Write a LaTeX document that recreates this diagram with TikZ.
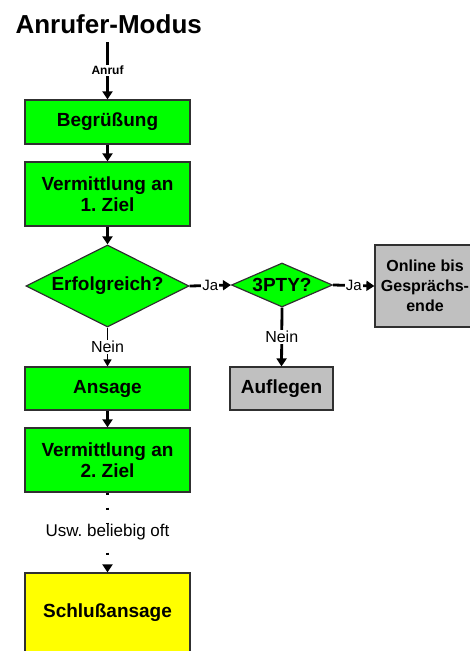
\documentclass[tikz,border=0pt]{standalone}
\usepackage{fontspec}
\setmainfont{Liberation Sans}
\usetikzlibrary{shapes.geometric,arrows.meta}
\frenchspacing
\definecolor{boxgreen}{HTML}{00FF00}
\definecolor{boxgray}{HTML}{C0C0C0}
\definecolor{boxyellow}{HTML}{FFFF00}
\definecolor{edge}{HTML}{303030}
\tikzset{
  box/.style={draw=edge, line width=1.2pt, rectangle, inner sep=0pt, align=center,
    font=\fontsize{19}{21}\selectfont\bfseries},
  greenbox/.style={box, fill=boxgreen},
  graybox/.style={box, fill=boxgray},
  dia/.style={draw=edge, line width=1.2pt, diamond, fill=boxgreen, inner sep=0pt,
    font=\fontsize{19}{21}\selectfont\bfseries},
  arr/.style={line width=2.8pt, -{Triangle[length=8pt,width=10pt]}},
  lbl/.style={fill=white, inner sep=1pt, font=\fontsize{16}{18}\selectfont},
}
\begin{document}
\begin{tikzpicture}[x=1pt,y=-1pt]
\useasboundingbox (0,0) rectangle (470,651);
\clip (0,0) rectangle (470,651);
\node[anchor=west, font=\fontsize{26}{28}\selectfont\bfseries] (title) at (12,24) {Anrufer-Modus};
\coordinate (start) at (107.5,42);
\node[greenbox, minimum width=165pt, minimum height=44pt] (b1) at (107.5,122) {Begrüßung};
\node[greenbox, minimum width=165pt, minimum height=64pt] (b2) at (107.5,194) {Vermittlung an\\1. Ziel};
\node[dia, shape aspect=2, minimum width=163pt, minimum height=82pt] (d1) at (107.5,286) {Erfolgreich?};
\node[dia, shape aspect=2.3, minimum width=101pt, minimum height=44pt] (d2) at (282,285) {3PTY?};
\node[graybox, minimum width=100pt, minimum height=82pt, font=\fontsize{16}{20}\selectfont\bfseries] (online) at (425,286) {Online bis\\Gesprächs-\\ende};
\node[graybox, minimum width=103pt, minimum height=43pt] (auf) at (281.5,388.5) {Auflegen};
\node[greenbox, minimum width=165pt, minimum height=43pt] (ans) at (107.5,388.5) {Ansage};
\node[greenbox, minimum width=165pt, minimum height=64pt] (b4) at (107.5,460) {Vermittlung an\\2. Ziel};
\node[box, fill=boxyellow, minimum width=165pt, minimum height=80pt] (schluss) at (107.5,613) {Schlußansage};

\draw[arr] (start) -- node[lbl, font=\fontsize{12}{14}\selectfont\bfseries] {Anruf} (b1.north);
\draw[arr] (b1) -- (b2);
\draw[arr] (b2) -- (d1.north);
\draw[arr] (d1.east) -- node[lbl, font=\fontsize{15}{17}\selectfont] {Ja} (d2.west);
\draw[arr] (d2.east) -- node[lbl, font=\fontsize{15}{17}\selectfont] {Ja} (online.west);
\draw[arr] (d2.south) -- node[lbl] {Nein} (auf.north);
\draw[line width=1.2pt, -{Triangle[length=7pt,width=8pt]}] (d1.south) -- node[lbl] {Nein} (ans.north);
\draw[arr] (ans) -- (b4);
\draw[line width=2.4pt, dash pattern=on 2pt off 13pt, -{Triangle[length=8pt,width=10pt]}] (b4) -- node[lbl, font=\fontsize{17}{19}\selectfont] {Usw. beliebig oft} (schluss);
\end{tikzpicture}
\end{document}
